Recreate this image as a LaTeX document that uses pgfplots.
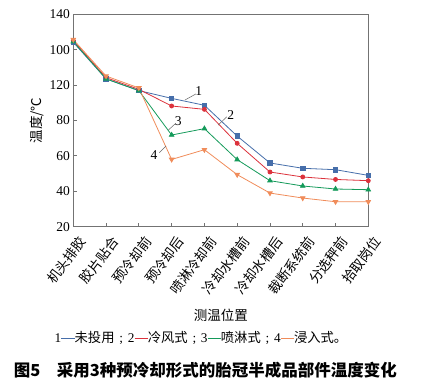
\documentclass[border=0pt]{standalone}
\usepackage{fontspec}
\setmainfont{Liberation Serif}
\newfontfamily\cjk{Noto Sans CJK SC}
\usepackage{pgfplots}
\pgfplotsset{compat=1.18}
\definecolor{c1}{HTML}{466EAA}
\definecolor{c2}{HTML}{DC323C}
\definecolor{c3}{HTML}{149A5A}
\definecolor{c4}{HTML}{F08C5A}
\newcommand{\sep}{\hspace{0.36em};\hspace{0.36em}}
\begin{document}
\begin{tikzpicture}
\begin{axis}[
  at={(0,0)}, anchor=south west,
  scale only axis, width=295pt, height=212.4pt,
  xmin=0, xmax=9, ymin=20, ymax=140,
  xtick={0,...,9},
  xticklabels={机头排胶,胶片贴合,预冷却前,预冷却后,喷淋冷却前,冷却水槽前,冷却水槽后,裁断系统前,分选秤前,拾取岗位},
  ytick={20,40,60,80,100,120,140},
  yticklabels={20,40,60,80,120,100,140},
  tick pos=left, tick align=inside,
  major tick length=4pt,
  axis line style={black!55, line width=0.8pt},
  tick style={black!55, line width=0.8pt},
  xticklabel style={font=\cjk\fontsize{13.5}{13.5}\selectfont, xshift=10pt, yshift=-11pt, rotate=53, anchor=east, inner sep=1pt},
  yticklabel style={font=\fontsize{13.5}{13.5}\selectfont},
  clip=false,
]
\addplot[c1, line width=0.8pt, mark=square*, mark size=2.2pt] coordinates {
(0,124.2) (1,103.5) (2,96.9) (3,92.5) (4,88.6) (5,71.2) (6,56.0) (7,53.0) (8,52.2) (9,49.0)};
\addplot[c2, line width=0.8pt, mark=*, mark size=2pt] coordinates {
(0,125.1) (1,104.2) (2,97.6) (3,88.2) (4,86.3) (5,67.1) (6,50.9) (7,48.1) (8,46.7) (9,46.0)};
\addplot[c3, line width=0.8pt, mark=triangle*, mark size=2.6pt] coordinates {
(0,124.6) (1,103.5) (2,96.9) (3,71.8) (4,75.4) (5,57.9) (6,46.0) (7,43.0) (8,41.3) (9,40.9)};
\addplot[c4, line width=0.8pt, mark=triangle*, mark options={rotate=180}, mark size=2.6pt] coordinates {
(0,125.7) (1,105.1) (2,98.4) (3,58.0) (4,63.5) (5,49.4) (6,39.0) (7,36.2) (8,34.1) (9,34.1)};
\draw[black!60, line width=0.5pt] (axis cs:3.41,91.6) -- (axis cs:3.74,95.0);
\node[font=\fontsize{13.5}{13.5}\selectfont] at (axis cs:3.83,96.5) {1};
\draw[black!60, line width=0.5pt] (axis cs:4.42,77.4) -- (axis cs:4.68,82.1);
\node[font=\fontsize{13.5}{13.5}\selectfont] at (axis cs:4.80,83.3) {2};
\draw[black!60, line width=0.5pt] (axis cs:2.90,74.6) -- (axis cs:3.10,78.0);
\node[font=\fontsize{13.5}{13.5}\selectfont] at (axis cs:3.20,79.5) {3};
\draw[black!60, line width=0.5pt] (axis cs:2.62,61.8) -- (axis cs:2.83,65.6);
\node[font=\fontsize{13.5}{13.5}\selectfont] at (axis cs:2.46,60.5) {4};
\end{axis}
\node[font=\cjk\fontsize{13.5}{13.5}\selectfont, rotate=90] at (-36pt,106.2pt) {温度/℃};
\node[font=\cjk\fontsize{13.5}{13.5}\selectfont] at (147.5pt,-88.3pt) {测温位置};
\node[font=\fontsize{13.3}{13.3}\selectfont] at (127.7pt,-111.3pt) {1\textcolor{c1}{\rule[0.3em]{1em}{0.5pt}}{\cjk 未投用}\sep 2\textcolor{c2}{\rule[0.3em]{1em}{0.5pt}}{\cjk 冷风式}\sep 3\textcolor{c3}{\rule[0.3em]{1em}{0.5pt}}{\cjk 喷淋式}\sep 4\textcolor{c4}{\rule[0.3em]{1em}{0.5pt}}{\cjk 浸入式。}};
\node[font=\cjk\bfseries\fontsize{16.5}{16.5}\selectfont] at (132pt,-143.8pt) {图5\hspace{1em}采用3种预冷却形式的胎冠半成品部件温度变化};
\pgfresetboundingbox
\path (-73.3pt,-161.3pt) rectangle (352.7pt,226.7pt);
\end{tikzpicture}
\end{document}
